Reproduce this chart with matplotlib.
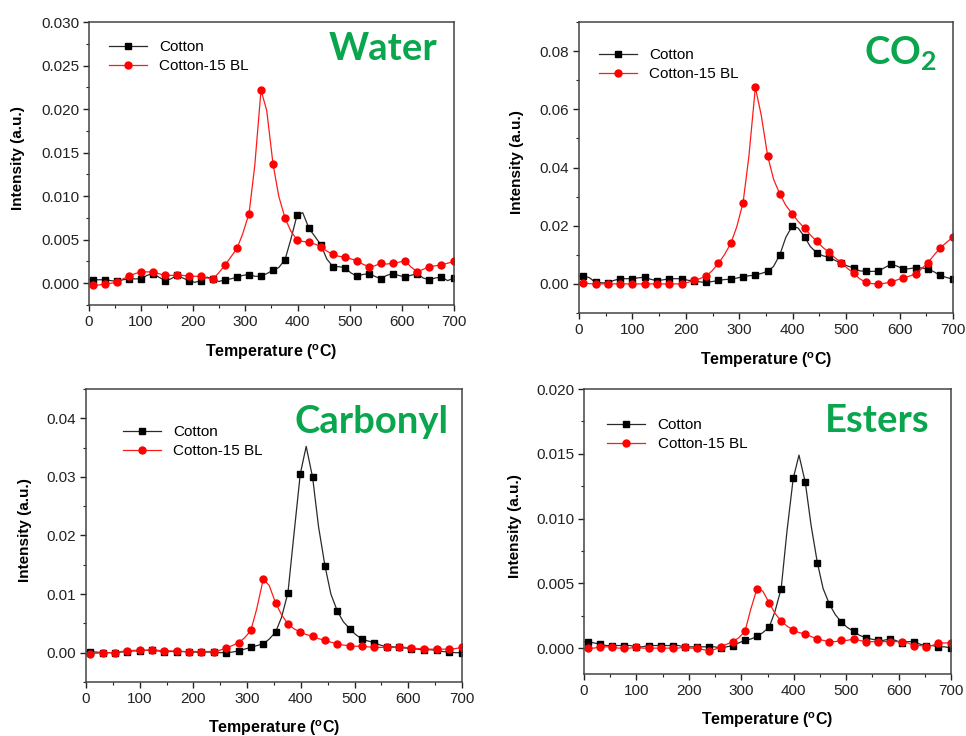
import matplotlib
matplotlib.use('Agg')
import matplotlib.pyplot as plt
from matplotlib.ticker import MultipleLocator, FormatStrFormatter

plt.rcParams['font.family'] = ['Liberation Sans', 'DejaVu Sans']
plt.rcParams['mathtext.fontset'] = 'custom'
plt.rcParams['mathtext.rm'] = 'Liberation Sans:bold'
plt.rcParams['mathtext.bf'] = 'Lato:bold'

# temperatures of the markers and of the line points half way between them
temp_line = [0, 8, 19, 31, 42, 54, 65, 77, 88, 100, 111, 123, 134, 146, 157, 169, 180,
             192, 203, 215, 226, 238, 249, 261, 272, 284, 295, 307, 318, 330, 341, 353,
             364, 376, 387, 399, 410, 422, 433, 445, 456, 468, 479, 491, 502, 514, 525,
             537, 548, 560, 571, 583, 594, 606, 617, 630, 641, 653, 664, 676, 688, 700]

# Water
water_cotton_start = 0.0004
water_cotton = [0.0004, 0.0004, 0.0002, 0.0005, 0.0005, 0.0011, 0.0003, 0.0009, 0.0003, 0.0003,
                0.0005, 0.0004, 0.0007, 0.0010, 0.0008, 0.0015, 0.0027, 0.0078, 0.0063, 0.0044,
                0.0019, 0.0018, 0.0008, 0.0011, 0.0005, 0.0011, 0.0007, 0.0011, 0.0004, 0.0007,
                0.0006]
water_cotton_mid = [0.0004, 0.0003, 0.0004, 0.0005, 0.0009, 0.0007, 0.0005, 0.0006, 0.0001, 0.0007,
                    0.0002, 0.0005, 0.0009, 0.0008, 0.0011, 0.0018, 0.0050, 0.0081, 0.0054, 0.0028,
                    0.0019, 0.0012, 0.0010, 0.0008, 0.0009, 0.0009, 0.0009, 0.0006, 0.0006, 0.0003]
water_bl_start = -0.0002
water_bl = [-0.0002, -0.0001, 0.0001, 0.0008, 0.0013, 0.0013, 0.0009, 0.0009, 0.0008, 0.0008,
            0.0005, 0.0021, 0.0040, 0.0080, 0.0222, 0.0137, 0.0075, 0.0050, 0.0047, 0.0042,
            0.0033, 0.0030, 0.0026, 0.0019, 0.0023, 0.0023, 0.0026, 0.0013, 0.0019, 0.0021,
            0.0025]
water_bl_mid = [-0.0002, 0.0000, 0.0005, 0.0011, 0.0013, 0.0011, 0.0009, 0.0009, 0.0008, 0.0006,
                0.0012, 0.0030, 0.0057, 0.0135, 0.0198, 0.0100, 0.0060, 0.0048, 0.0045, 0.0037,
                0.0031, 0.0028, 0.0022, 0.0020, 0.0022, 0.0024, 0.0019, 0.0016, 0.0020, 0.0023]

# CO2
co2_cotton_start = 0.0027
co2_cotton = [0.0026, 0.0005, 0.0003, 0.0018, 0.0018, 0.0023, 0.0011, 0.0018, 0.0018, 0.0009,
              0.0005, 0.0012, 0.0016, 0.0025, 0.0030, 0.0043, 0.0101, 0.0199, 0.0162, 0.0107,
              0.0091, 0.0071, 0.0055, 0.0043, 0.0044, 0.0067, 0.0052, 0.0056, 0.0051, 0.0029,
              0.0016]
co2_cotton_mid = [0.0022, 0.0004, 0.0012, 0.0018, 0.0021, 0.0016, 0.0014, 0.0018, 0.0013, 0.0007,
                  0.0008, 0.0015, 0.0020, 0.0028, 0.0036, 0.0060, 0.0160, 0.0192, 0.0128, 0.0097,
                  0.0081, 0.0062, 0.0045, 0.0043, 0.0055, 0.0062, 0.0052, 0.0055, 0.0042, 0.0022]
co2_bl_start = 0.0003
co2_bl = [0.0003, 0.0000, 0.0000, 0.0001, 0.0000, 0.0000, 0.0000, 0.0000, 0.0000, 0.0012,
          0.0027, 0.0071, 0.0139, 0.0279, 0.0675, 0.0440, 0.0308, 0.0241, 0.0192, 0.0146,
          0.0108, 0.0073, 0.0037, 0.0005, 0.0000, 0.0006, 0.0021, 0.0034, 0.0073, 0.0124,
          0.0161]
co2_bl_mid = [0.0001, 0.0000, 0.0000, 0.0000, 0.0000, 0.0000, 0.0000, 0.0000, 0.0005, 0.0018,
              0.0045, 0.0100, 0.0195, 0.0440, 0.0580, 0.0360, 0.0270, 0.0215, 0.0168, 0.0126,
              0.0090, 0.0054, 0.0018, 0.0001, 0.0002, 0.0013, 0.0026, 0.0052, 0.0098, 0.0143]

# Carbonyl
carb_cotton_start = 0.0002
carb_cotton = [0.0002, 0.0000, 0.0000, 0.0002, 0.0003, 0.0004, 0.0002, 0.0002, 0.0001, 0.0001,
               0.0001, 0.0000, 0.0003, 0.0009, 0.0015, 0.0035, 0.0102, 0.0305, 0.0299, 0.0148,
               0.0071, 0.0041, 0.0023, 0.0017, 0.0010, 0.0009, 0.0007, 0.0005, 0.0004, 0.0001,
               0.0000]
carb_cotton_mid = [0.0001, 0.0000, 0.0001, 0.0003, 0.0004, 0.0003, 0.0002, 0.0002, 0.0001, 0.0001,
                   0.0000, 0.0001, 0.0006, 0.0012, 0.0023, 0.0060, 0.0200, 0.0352, 0.0215, 0.0100,
                   0.0053, 0.0031, 0.0020, 0.0013, 0.0010, 0.0008, 0.0006, 0.0005, 0.0002, 0.0000]
carb_bl_start = -0.0002
carb_bl = [-0.0002, 0.0000, 0.0000, 0.0003, 0.0004, 0.0005, 0.0003, 0.0003, 0.0002, 0.0002,
           0.0002, 0.0008, 0.0017, 0.0038, 0.0125, 0.0085, 0.0049, 0.0035, 0.0028, 0.0021,
           0.0015, 0.0012, 0.0011, 0.0009, 0.0009, 0.0010, 0.0008, 0.0007, 0.0006, 0.0006,
           0.0009]
carb_bl_mid = [-0.0001, 0.0000, 0.0002, 0.0004, 0.0004, 0.0004, 0.0003, 0.0002, 0.0002, 0.0002,
               0.0004, 0.0012, 0.0025, 0.0075, 0.0115, 0.0065, 0.0041, 0.0031, 0.0024, 0.0018,
               0.0013, 0.0011, 0.0010, 0.0009, 0.0009, 0.0009, 0.0007, 0.0006, 0.0006, 0.0007]

# Esters
est_cotton_start = 0.0005
est_cotton = [0.0005, 0.0003, 0.0002, 0.0002, 0.0001, 0.0002, 0.0002, 0.0002, 0.0001, 0.0001,
              0.0001, 0.0000, 0.0002, 0.0006, 0.0009, 0.0016, 0.0046, 0.0131, 0.0128, 0.0066,
              0.0034, 0.0020, 0.0013, 0.0008, 0.0006, 0.0007, 0.0004, 0.0005, 0.0002, 0.0001,
              0.0000]
est_cotton_mid = [0.0004, 0.0002, 0.0002, 0.0002, 0.0001, 0.0002, 0.0002, 0.0002, 0.0001, 0.0001,
                  0.0001, 0.0001, 0.0004, 0.0007, 0.0012, 0.0028, 0.0090, 0.0149, 0.0095, 0.0046,
                  0.0026, 0.0016, 0.0010, 0.0007, 0.0006, 0.0006, 0.0005, 0.0003, 0.0002, 0.0001]
est_bl_start = 0.0000
est_bl = [0.0000, 0.0001, 0.0001, 0.0000, 0.0001, 0.0000, 0.0000, 0.0000, 0.0001, 0.0000,
          -0.0002, 0.0001, 0.0005, 0.0013, 0.0046, 0.0035, 0.0021, 0.0014, 0.0011, 0.0007,
          0.0005, 0.0006, 0.0007, 0.0005, 0.0005, 0.0005, 0.0005, 0.0002, 0.0001, 0.0004,
          0.0004]
est_bl_mid = [0.0000, 0.0001, 0.0000, 0.0000, 0.0000, 0.0000, 0.0000, 0.0000, 0.0000, -0.0001,
              -0.0001, 0.0003, 0.0008, 0.0030, 0.0044, 0.0027, 0.0017, 0.0012, 0.0009, 0.0006,
              0.0005, 0.0006, 0.0006, 0.0005, 0.0005, 0.0005, 0.0004, 0.0002, 0.0002, 0.0004]

series_names = ['Cotton', 'Cotton-15 BL']
GREEN = '#0aa64e'


def trace(start, marks, mids):
    """line values: start, then marker / mid point alternating"""
    vals = [start]
    for i, m in enumerate(marks):
        vals.append(m)
        if i < len(mids):
            vals.append(mids[i])
    return vals


def draw_panel(fig, rect, cotton, bl, ylim, ymajor, fmt, title, title_xy,
               leg_xy, ylab_x, xlab_y):
    ax = fig.add_axes(rect)
    ax.plot(temp_line, trace(*cotton), color='#2a2a2a', lw=0.9, marker='s', ms=4.3,
            mfc='black', mec='black', markevery=(1, 2), label=series_names[0])
    ax.plot(temp_line, trace(*bl), color='#ff1a1a', lw=0.9, marker='o', ms=5.0,
            mfc='#ff0000', mec='#ff0000', markevery=(1, 2), label=series_names[1])
    ax.set_xlim(0, 700)
    ax.set_ylim(*ylim)
    ax.xaxis.set_major_locator(MultipleLocator(100))
    ax.xaxis.set_minor_locator(MultipleLocator(50))
    ax.yaxis.set_major_locator(MultipleLocator(ymajor))
    ax.yaxis.set_minor_locator(MultipleLocator(ymajor / 2))
    ax.yaxis.set_major_formatter(FormatStrFormatter(fmt))
    ax.tick_params(which='major', direction='out', length=4, width=1, labelsize=11,
                   pad=3, colors='#222222')
    ax.tick_params(which='minor', direction='out', length=2.2, width=0.8, colors='#222222')
    for s in ax.spines.values():
        s.set_color('#444444')
        s.set_linewidth(1.1)
    ax.set_xlabel(r'Temperature ($^{\mathrm{o}}$C)', fontsize=11.5, fontweight='bold')
    ax.set_ylabel('Intensity (a.u.)', fontsize=11, fontweight='bold')
    ax.xaxis.label.set_va('center')
    ax.yaxis.label.set_va('center')
    ax.xaxis.set_label_coords(0.5, xlab_y)
    ax.yaxis.set_label_coords(ylab_x, 0.52)
    ax.legend(loc='upper left', bbox_to_anchor=leg_xy, frameon=False, fontsize=11,
              borderpad=0, borderaxespad=0, handlelength=2.5, handletextpad=0.8,
              labelspacing=0.33)
    ax.text(title_xy[0], title_xy[1], title, transform=ax.transAxes, ha='center',
            va='center', color=GREEN, fontsize=27.5, fontweight='bold', family='Lato')
    return ax


fig = plt.figure(figsize=(9.66, 7.36), dpi=100)

draw_panel(fig, [0.0921, 0.5856, 0.3778, 0.3845],
           (water_cotton_start, water_cotton, water_cotton_mid),
           (water_bl_start, water_bl, water_bl_mid),
           (-0.0025, 0.030), 0.005, '%.3f', 'Water', (0.805, 0.905),
           (0.055, 0.936), -0.195, -0.166)

draw_panel(fig, [0.5994, 0.5747, 0.3872, 0.3954],
           (co2_cotton_start, co2_cotton, co2_cotton_mid),
           (co2_bl_start, co2_bl, co2_bl_mid),
           (-0.01, 0.09), 0.02, '%.2f', r'CO$_{\mathbf{2}}$', (0.858, 0.89),
           (0.053, 0.910), -0.166, -0.161)

draw_panel(fig, [0.0890, 0.0734, 0.3892, 0.3981],
           (carb_cotton_start, carb_cotton, carb_cotton_mid),
           (carb_bl_start, carb_bl, carb_bl_mid),
           (-0.005, 0.045), 0.01, '%.2f', 'Carbonyl', (0.76, 0.887),
           (0.098, 0.877), -0.162, -0.157)

draw_panel(fig, [0.6046, 0.0842, 0.3799, 0.3872],
           (est_cotton_start, est_cotton, est_cotton_mid),
           (est_bl_start, est_bl, est_bl_mid),
           (-0.002, 0.020), 0.005, '%.3f', 'Esters', (0.80, 0.888),
           (0.063, 0.898), -0.188, -0.161)

fig.savefig('out.png', dpi=100)
